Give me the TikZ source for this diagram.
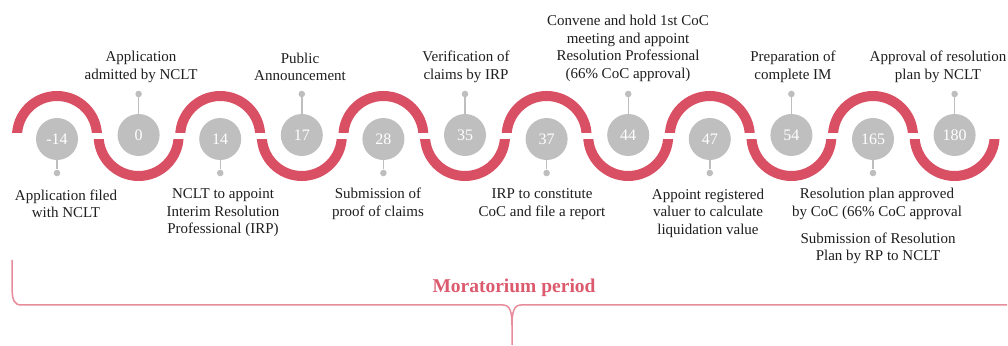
\documentclass[tikz,border=0pt]{standalone}
\usepackage{fontspec}
\setmainfont{Liberation Serif}
\definecolor{arcred}{RGB}{217,80,100}
\definecolor{cgray}{RGB}{191,191,191}
\definecolor{pgray}{RGB}{190,190,190}
\definecolor{txt}{RGB}{30,30,30}
\definecolor{mor}{RGB}{220,90,110}
\definecolor{brace}{RGB}{230,140,155}
\begin{document}
\begin{tikzpicture}[x=1pt,y=1pt,
  lbl/.style={align=center,inner sep=0pt,text=txt,font=\fontsize{15}{17.5}\selectfont},
  num/.style={circle,fill=cgray,minimum size=42pt,inner sep=0pt,text=white,font=\fontsize{16}{16}\selectfont},
  pin/.style={circle,fill=pgray,minimum size=6.6pt,inner sep=0pt},
  pinline/.style={draw=pgray,line width=1.4pt},
  ring/.style={draw=arcred,line width=10pt},
  bracestyle/.style={draw=brace,line width=1.5pt}]
\useasboundingbox (0,0) rectangle (1008,345);
% snake of half rings
\foreach \i in {0,...,11} {
  \pgfmathsetmacro\xx{57+81.6*\i}
  \ifodd\i
    \draw[ring] (\xx-40,209) arc[start angle=180,end angle=360,radius=40];
  \else
    \draw[ring] (\xx-40,209) arc[start angle=180,end angle=0,radius=40];
  \fi
}
\fill[white] (0,206) rectangle (1008,212);
% day circles and pins
\foreach \i/\n in {0/-14,1/0,2/14,3/17,4/28,5/35,6/37,7/44,8/47,9/54,10/165,11/180} {
  \pgfmathsetmacro\xx{57+81.6*\i}
  \ifodd\i
    \node[num] (c\i) at (\xx,210) {\n};
    \node[pin] (p\i) at (\xx,251) {};
    \draw[pinline] (c\i.north) -- (p\i);
  \else
    \node[num] (c\i) at (\xx,206) {\n};
    \node[pin] (p\i) at (\xx,172) {};
    \draw[pinline] (c\i.south) -- (p\i);
  \fi
}
% top labels
\node[lbl] (l1) at (141,278) {Application\\admitted by NCLT};
\node[lbl] (l3) at (300,278) {Public\\Announcement};
\node[lbl] (l5) at (466,278) {Verification of\\claims by IRP};
\node[lbl] (l7) at (628,296.5) {Convene and hold 1st CoC\\meeting and appoint\\Resolution Professional\\(66\% CoC approval)};
\node[lbl] (l9) at (793,278) {Preparation of\\complete IM};
\node[lbl] (l11) at (938,278) {Approval of resolution\\plan by NCLT};
% bottom labels
\node[lbl] (l0) at (66,141) {Application filed\\with NCLT};
\node[lbl] (l2) at (223,132) {NCLT to appoint\\Interim Resolution\\Professional (IRP)};
\node[lbl] (l4) at (378,141) {Submission of\\proof of claims};
\node[lbl] (l6) at (542,141) {IRP to constitute\\CoC and file a report};
\node[lbl] (l8) at (708,132) {Appoint registered\\valuer to calculate\\liquidation value};
\node[lbl] (l10) at (877,141) {Resolution plan approved\\by CoC (66\% CoC approval};
\node[lbl] (l10b) at (878,96.5) {Submission of Resolution\\Plan by RP to NCLT};
% moratorium brace
\node[inner sep=0pt,text=mor,font=\fontsize{19.5}{19.5}\selectfont\bfseries] (mt) at (514,57) {Moratorium period};
\coordinate (bl) at (12,85);
\coordinate (br) at (1007,40);
\coordinate (bt) at (512,0);
\draw[bracestyle] (bl) -- (12,60) .. controls (12,44) and (14,40) .. (22,40) -- (503,40)
   .. controls (510,40) and (512,33) .. (512,20) -- (bt);
\draw[bracestyle] (br) -- (521,40) .. controls (514,40) and (512,33) .. (512,20);
\end{tikzpicture}
\end{document}
